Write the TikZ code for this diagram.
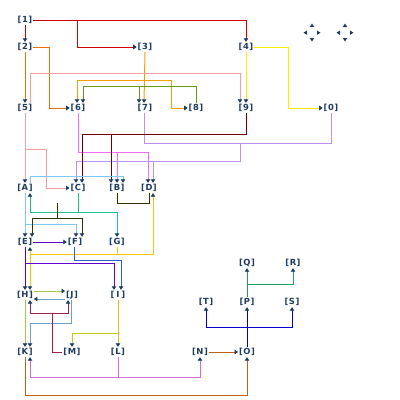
\documentclass[tikz,border=0pt]{standalone}
\usepackage{fontspec}
\newfontfamily\tagfont{DejaVu Sans}
\usetikzlibrary{arrows.meta}

\definecolor{ink}{RGB}{30,60,95}
\definecolor{cRed}{RGB}{212,0,0}
\definecolor{cOrgA}{RGB}{240,112,0}
\definecolor{cOrgB}{RGB}{245,160,0}
\definecolor{cGrn}{RGB}{107,154,16}
\definecolor{cPink}{RGB}{244,160,160}
\definecolor{cYel}{RGB}{248,240,0}
\definecolor{cMag}{RGB}{240,112,240}
\definecolor{cLav}{RGB}{192,144,240}
\definecolor{cMar}{RGB}{112,0,0}
\definecolor{cSky}{RGB}{128,200,240}
\definecolor{cTeal}{RGB}{32,192,144}
\definecolor{cDol}{RGB}{51,51,0}
\definecolor{cGold}{RGB}{248,200,0}
\definecolor{cPur}{RGB}{96,0,208}
\definecolor{cBlu}{RGB}{48,96,208}
\definecolor{cYg}{RGB}{160,208,64}
\definecolor{cSteel}{RGB}{112,160,200}
\definecolor{cCrm}{RGB}{160,32,80}
\definecolor{cOlv}{RGB}{200,200,32}
\definecolor{cOrc}{RGB}{208,112,208}
\definecolor{cBrn}{RGB}{192,96,16}
\definecolor{cDblu}{RGB}{0,0,208}
\definecolor{cSea}{RGB}{32,160,96}

\newcommand{\tag}[1]{[\kern0.5pt#1\kern0.5pt]}

\begin{document}
\begin{tikzpicture}[x=1pt, y=-1pt,
  lbl/.style={font=\tagfont\fontsize{8.4}{10}\selectfont\bfseries, text=ink,
    inner xsep=0.8pt, inner ysep=0pt, minimum height=10pt},
  wire/.style={line width=1pt},
  conn/.style={wire, -{Triangle[width=4.5pt,length=3.5pt,color=ink]}}]
  \useasboundingbox (0,0) rectangle (400,400);

  \node (n1) at (25,20) [lbl] {\tag{1}};
  \node (n2) at (25,47) [lbl] {\tag{2}};
  \node (n3) at (145,47) [lbl] {\tag{3}};
  \node (n4) at (246,47) [lbl] {\tag{4}};
  \node (n5) at (25,108) [lbl] {\tag{5}};
  \node (n6) at (78,108) [lbl] {\tag{6}};
  \node (n7) at (145,108) [lbl] {\tag{7}};
  \node (n8) at (196,108) [lbl] {\tag{8}};
  \node (n9) at (246,108) [lbl] {\tag{9}};
  \node (n0) at (331,108) [lbl] {\tag{0}};
  \node (nA) at (25,188) [lbl] {\tag{A}};
  \node (nC) at (78,188) [lbl] {\tag{C}};
  \node (nB) at (117,188) [lbl] {\tag{B}};
  \node (nD) at (149,188) [lbl] {\tag{D}};
  \node (nE) at (25,242) [lbl] {\tag{E}};
  \node (nF) at (75,242) [lbl] {\tag{F}};
  \node (nG) at (117,242) [lbl] {\tag{G}};
  \node (nH) at (25,295) [lbl] {\tag{H}};
  \node (nJ) at (72,295) [lbl] {\tag{J}};
  \node (nI) at (118,295) [lbl] {\tag{\,I\,}};
  \node (nK) at (25,352) [lbl] {\tag{K}};
  \node (nM) at (72,352) [lbl] {\tag{M}};
  \node (nL) at (118,352) [lbl] {\tag{L}};
  \node (nN) at (200,352) [lbl] {\tag{N}};
  \node (nO) at (247,352) [lbl] {\tag{O}};
  \node (nQ) at (247,263) [lbl] {\tag{Q}};
  \node (nR) at (293,263) [lbl] {\tag{R}};
  \node (nT) at (206,302) [lbl] {\tag{T}};
  \node (nP) at (247,302) [lbl] {\tag{P}};
  \node (nS) at (292,302) [lbl] {\tag{S}};

  \coordinate (j1) at (77,20);
  \coordinate (j3) at (145,80);
  \coordinate (j8) at (139,86);
  \coordinate (j5) at (25,149);
  \coordinate (j6) at (117,152);
  \coordinate (j7) at (240,143);
  \coordinate (j7b) at (153,161);
  \coordinate (j9) at (111,134);
  \coordinate (jA) at (25,224);
  \coordinate (jC) at (78,212);
  \coordinate (jB) at (57,203);
  \coordinate (jB2) at (57,218);
  \coordinate (jG) at (117,254);
  \coordinate (jG2) at (30,254);
  \coordinate (jE) at (25,263);
  \coordinate (jM) at (52,313);
  \coordinate (jI) at (118,333);
  \coordinate (jL) at (118,377);
  \coordinate (jO) at (247,327);
  \coordinate (jP) at (247,284);

  \draw [conn, cRed] (n1.south) -- (n2.north);
  \draw [conn, cRed] (n1.east) -| (n4.north);
  \draw [conn, cRed] (j1) |- (n3.west);

  \draw [conn, cOrgA] (n2.south) -- (n5.north);
  \draw [conn, cOrgA] (n2.east) -| (49,108) -- (n6.west);

  \draw [conn, cOrgB] (n3.south) -- ([xshift=-1pt]n7.north);
  \draw [conn, cOrgB] (j3) -| ([xshift=-1pt]n6.north);
  \draw [conn, cOrgB] (j3) -| (171,108) -- (n8.west);

  \draw [conn, cGrn] (n8.north) |- (83,86) -- ([xshift=5pt]n6.north);
  \draw [conn, cGrn] (j8) -- ([xshift=-6pt]n7.north);

  \draw [conn, cPink] ([xshift=5pt]n5.north) |- (240,73) -- ([xshift=-6pt]n9.north);
  \draw [conn, cPink] (n5.south) -- (nA.north);
  \draw [conn, cPink] (j5) -| (46,188) -- (nC.west);

  \draw [conn, cYel] (n4.south) -- (n9.north);
  \draw [conn, cYel] (n4.east) -| (288,108) -- (n0.west);

  \draw [conn, cMag] (n6.south) -- (78,152) -| ([xshift=-1pt]nD.north);
  \draw [conn, cMag] (j6) -- (nB.north);

  \draw [wire, cLav] ([xshift=-1pt]n7.south) |- (331,143) -- (n0.south);
  \draw [conn, cLav] (j7) -- (240,161) -| ([xshift=-2pt]nC.north);
  \draw [conn, cLav] (j7b) -- ([xshift=4pt]nD.north);

  \draw [conn, cMar] (n9.south) |- (82,134) -- ([xshift=4pt]nC.north);
  \draw [conn, cMar] (j9) -- ([xshift=-6pt]nB.north);

  \draw [conn, cSky] ([xshift=5pt]nA.north) |- (123,176) -- ([xshift=6pt]nB.north);
  \draw [conn, cSky] (nA.south) -- (nE.north);
  \draw [conn, cSky] (jA) -| ([xshift=1pt]nF.north);

  \draw [conn, cTeal] (nC.south) -- (jC) -| ([xshift=5pt]nA.south);
  \draw [conn, cTeal] (jC) -| (nG.north);

  \draw [wire, cDol] (nB.south) -- (117,203) -| (nD.south);
  \draw [conn, cDol] (jB) -- (jB2) -| ([xshift=7pt]nE.north);
  \draw [conn, cDol] (jB2) -| ([xshift=7pt]nF.north);

  \draw [conn, cGold] (nG.south) -- (jG) -| ([xshift=5pt]nE.south);
  \draw [conn, cGold] (jG) -| ([xshift=4pt]nD.south);
  \draw [conn, cGold] (jG2) -- ([xshift=5pt]nH.north);

  \draw [conn, cPur] (nE.east) -- (nF.west);
  \draw [conn, cPur] (nE.south) -- (nH.north);
  \draw [conn, cPur] (jE) -| ([xshift=-4pt]nI.north);

  \draw [conn, cBlu] ([xshift=-1pt]nF.south) |- (121,260) -- ([xshift=3pt]nI.north);

  \draw [conn, cYg] ([yshift=4pt]nH.east) -- ([yshift=4pt]nJ.west);
  \draw [conn, cYg] (nH.south) -- (nK.north);

  \draw [conn, cSteel] ([yshift=-4pt]nJ.west) -- ([yshift=-4pt]nH.east);
  \draw [conn, cSteel] ([xshift=-1pt]nJ.south) |- (30,323) -- ([xshift=5pt]nK.north);

  \draw [conn, cCrm] (nM.west) -| (jM) -| ([xshift=5pt]nH.south);
  \draw [conn, cCrm] (jM) -| ([xshift=-4pt]nJ.south);

  \draw [conn, cOlv] (nI.south) -- (jI) -| (nM.north);
  \draw [conn, cOlv] (jI) -- (nL.north);

  \draw [conn, cOrc] (nL.south) -- (jL) -| ([xshift=5pt]nK.south);
  \draw [conn, cOrc] (jL) -| (nN.south);

  \draw [conn, cBrn] (nK.south) |- (247,395) -- (nO.south);
  \draw [conn, cBrn] (nN.east) -- (nO.west);

  \draw [conn, cDblu] (nO.north) -- (nP.south);
  \draw [conn, cDblu] (jO) -| (nT.south);
  \draw [conn, cDblu] (jO) -| (nS.south);

  \draw [conn, cSea] (nP.north) -- (jP) -| (nR.south);
  \draw [conn, cSea] (jP) -- (nQ.south);

  \foreach \cx in {312,345} {
    \fill [ink] (\cx,23.5) -- (\cx-2.2,27) -- (\cx+2.2,27) -- cycle;
    \fill [ink] (\cx,41.5) -- (\cx-2.2,38) -- (\cx+2.2,38) -- cycle;
    \fill [ink] (\cx-8.5,32.7) -- (\cx-5,30.5) -- (\cx-5,34.9) -- cycle;
    \fill [ink] (\cx+8.5,32.7) -- (\cx+5,30.5) -- (\cx+5,34.9) -- cycle;
  }
\end{tikzpicture}
\end{document}
